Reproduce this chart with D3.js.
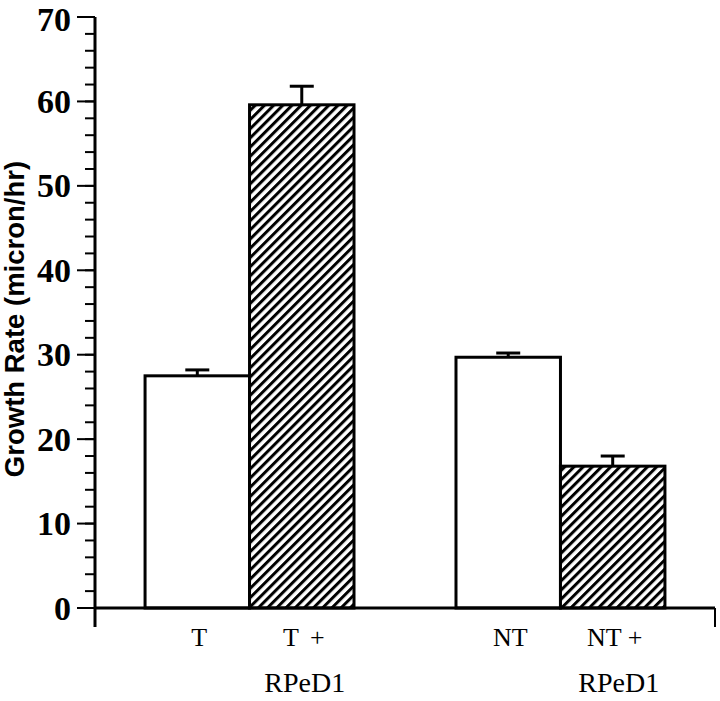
<!DOCTYPE html>
<html>
<head>
<meta charset="utf-8">
<script src="https://cdn.jsdelivr.net/npm/d3@7"></script>
<style>
  body { margin: 0; background: #fff; }
  svg { display: block; }
</style>
</head>
<body>
<svg id="chart" width="720" height="701"></svg>
<script>
// ---- data ----
const groups = ["T", "NT"];
const treatments = ["control", "RPeD1"];
const categories = ["T", "T +", "NT", "NT +"];
const values = [27.5, 59.6, 29.7, 16.8];
const errors = [0.7, 2.2, 0.5, 1.2];
const yTicks = [0, 10, 20, 30, 40, 50, 60, 70];
const yMinorTicks = d3.range(0, 71, 2);
const subLabels = ["", "RPeD1", "", "RPeD1"];

// ---- layout ----
const svg = d3.select("#chart");
const x0 = 95, x1 = 715, yBottom = 608, yTop = 17;

const y = d3.scaleLinear().domain([0, 70]).range([yBottom, yTop]);
const xg = d3.scaleBand().domain(groups).range([x0, x1])
  .paddingInner(0.328).paddingOuter(0.161);
const xs = d3.scaleBand().domain(treatments).range([0, xg.bandwidth()]);

const defs = svg.append("defs");
const P = 6.5;
const pat = defs.append("pattern")
  .attr("id", "hatch").attr("patternUnits", "userSpaceOnUse")
  .attr("width", P).attr("height", P)
  .attr("patternTransform", "rotate(45)");
pat.append("rect").attr("width", P).attr("height", P).attr("fill", "#fff");
pat.append("line").attr("x1", 1.5).attr("x2", 1.5).attr("y1", 0).attr("y2", P)
  .attr("stroke", "#000").attr("stroke-width", 3);

const items = categories.map((c, i) => ({
  cat: c, group: groups[Math.floor(i / 2)], tr: treatments[i % 2],
  v: values[i], e: errors[i], sub: subLabels[i]
}));
const cx = d => xg(d.group) + xs(d.tr) + xs.bandwidth() / 2;

// bars
svg.append("g").selectAll("rect").data(items).join("rect")
  .attr("x", d => xg(d.group) + xs(d.tr))
  .attr("y", d => y(d.v))
  .attr("width", xs.bandwidth())
  .attr("height", d => y(0) - y(d.v))
  .attr("fill", d => d.tr === "RPeD1" ? "url(#hatch)" : "#fff")
  .attr("stroke", "#000").attr("stroke-width", 3);

// error bars
const eg = svg.append("g").attr("stroke", "#000");
eg.selectAll("line.v").data(items).join("line").attr("class", "v")
  .attr("x1", cx).attr("x2", cx)
  .attr("y1", d => y(d.v)).attr("y2", d => y(d.v + d.e))
  .attr("stroke-width", 3);
eg.selectAll("line.c").data(items).join("line").attr("class", "c")
  .attr("x1", d => cx(d) - 12).attr("x2", d => cx(d) + 12)
  .attr("y1", d => y(d.v + d.e)).attr("y2", d => y(d.v + d.e))
  .attr("stroke-width", 3);

// y axis
const ya = svg.append("g");
ya.append("line").attr("x1", x0).attr("x2", x0).attr("y1", yTop).attr("y2", 627)
  .attr("stroke", "#000").attr("stroke-width", 3);
ya.selectAll("line.minor").data(yMinorTicks).join("line").attr("class", "minor")
  .attr("x1", x0 - 10).attr("x2", x0).attr("y1", d => y(d)).attr("y2", d => y(d))
  .attr("stroke", "#000").attr("stroke-width", 2);
ya.selectAll("line.major").data(yTicks).join("line").attr("class", "major")
  .attr("x1", x0 - 18).attr("x2", x0).attr("y1", d => y(d)).attr("y2", d => y(d))
  .attr("stroke", "#000").attr("stroke-width", 2);
ya.selectAll("text").data(yTicks).join("text")
  .attr("x", 71).attr("y", d => y(d) + (d === 70 ? 2 : 0)).attr("dy", "0.34em")
  .attr("text-anchor", "end")
  .attr("font-family", "'Liberation Serif', 'Times New Roman', serif")
  .attr("font-weight", "bold").attr("font-size", 34)
  .text(d => d);

// x axis
const xa = svg.append("g");
xa.append("line").attr("x1", x0).attr("x2", x1).attr("y1", yBottom).attr("y2", yBottom)
  .attr("stroke", "#000").attr("stroke-width", 3);
xa.append("line").attr("x1", x1).attr("x2", x1).attr("y1", yBottom).attr("y2", 627)
  .attr("stroke", "#000").attr("stroke-width", 2);

const lblFont = "'Liberation Serif', 'Times New Roman', serif";
xa.selectAll("text.cat").data(items).join("text").attr("class", "cat")
  .attr("x", d => cx(d) + 2).attr("y", 646)
  .attr("text-anchor", "middle")
  .attr("font-family", lblFont).attr("font-size", 26)
  .attr("word-spacing", d => d.cat === "T +" ? 5 : 0)
  .text(d => d.cat);
xa.selectAll("text.sub").data(items.filter(d => d.sub)).join("text").attr("class", "sub")
  .attr("x", (d, i) => cx(d) + (i === 0 ? 3 : 6)).attr("y", 692)
  .attr("text-anchor", "middle")
  .attr("font-family", lblFont).attr("font-size", 28)
  .text(d => d.sub);

// y title
svg.append("text")
  .attr("transform", "translate(24,319) rotate(-90)")
  .attr("text-anchor", "middle")
  .attr("font-family", "'Liberation Sans', Arial, sans-serif")
  .attr("font-weight", "bold").attr("font-size", 27.5)
  .text("Growth Rate (micron/hr)");
</script>
</body>
</html>
